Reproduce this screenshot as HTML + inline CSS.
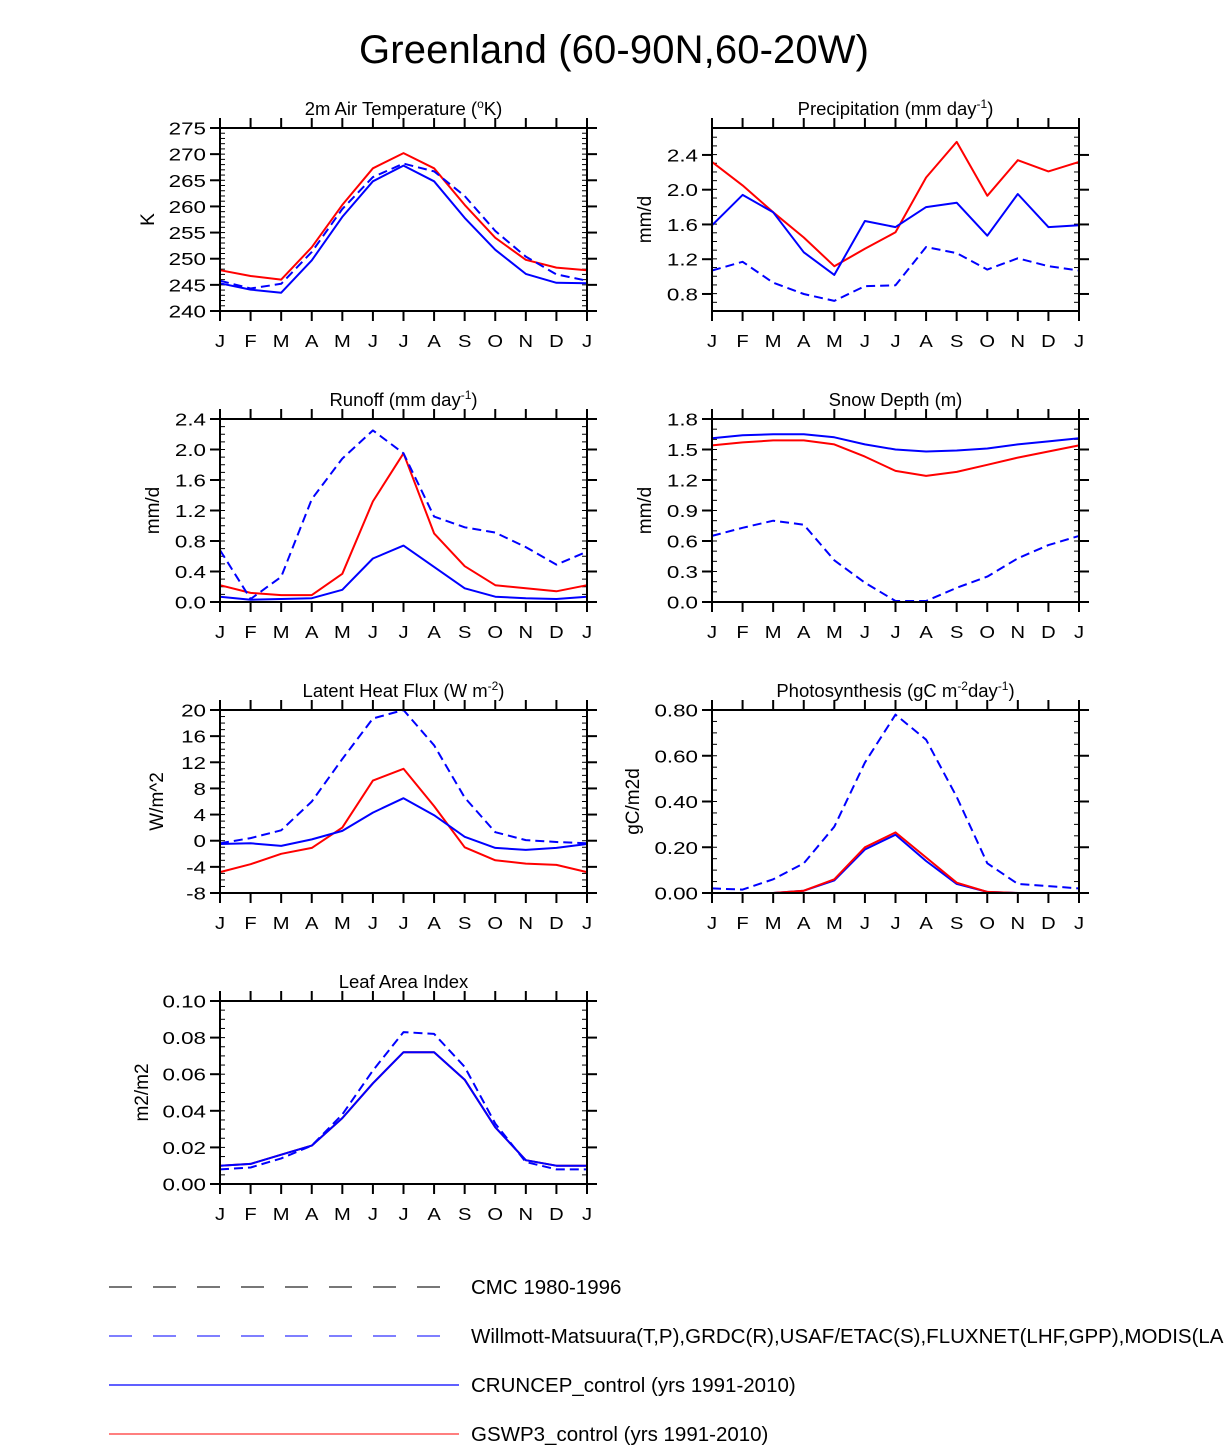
<!DOCTYPE html>
<html><head><meta charset="utf-8"><style>
html,body{margin:0;padding:0;background:#fff;}
svg text{font-family:"Liberation Sans",Helvetica,sans-serif;fill:#000;}
</style></head><body>
<svg id="chart" width="1224" height="1447" viewBox="0 0 1224 1447" xmlns="http://www.w3.org/2000/svg">
<text x="614" y="63" font-size="40" text-anchor="middle" textLength="510">Greenland (60-90N,60-20W)</text>
<g id="legend">
<line x1="109" y1="1287" x2="440" y2="1287" stroke="#777" stroke-width="2" stroke-dasharray="23,21"/>
<text x="471" y="1294" font-size="20.5">CMC 1980-1996</text>
<line x1="109" y1="1336" x2="440" y2="1336" stroke="#33f" stroke-width="1.2" stroke-dasharray="23,21"/>
<text x="471" y="1343" font-size="20.5">Willmott-Matsuura(T,P),GRDC(R),USAF/ETAC(S),FLUXNET(LHF,GPP),MODIS(LAI)</text>
<line x1="109" y1="1385" x2="459" y2="1385" stroke="#00f" stroke-width="1.2"/>
<text x="471" y="1392" font-size="20.5">CRUNCEP_control (yrs 1991-2010)</text>
<line x1="109" y1="1434" x2="459" y2="1434" stroke="#f33" stroke-width="1.2"/>
<text x="471" y="1441" font-size="20.5">GSWP3_control (yrs 1991-2010)</text>
</g>
</svg>
<script>
const months = ["J","F","M","A","M","J","J","A","S","O","N","D","J"];
// Temperature
const tempRed = [247.8,246.7,246,252.2,260.3,267.3,270.2,267.3,260.3,254,249.8,248.3,247.8];
const tempBlue = [245.3,244.1,243.5,249.7,258,264.8,267.8,264.8,257.8,251.7,247.1,245.4,245.3];
const tempObs = [245.8,244.3,245.2,251.3,259.5,265.6,268.2,266.7,262,255.3,250.4,247,245.8];
const tempTicks = ["240","245","250","255","260","265","270","275"];
// Precipitation
const precRed = [2.32,2.05,1.74,1.45,1.12,1.32,1.51,2.14,2.55,1.93,2.34,2.21,2.32];
const precBlue = [1.59,1.94,1.74,1.28,1.02,1.64,1.57,1.80,1.85,1.47,1.95,1.57,1.59];
const precObs = [1.07,1.17,0.93,0.80,0.72,0.89,0.90,1.34,1.27,1.08,1.21,1.12,1.07];
const precTicks = ["0.8","1.2","1.6","2.0","2.4"];
// Runoff
const runRed = [0.22,0.12,0.09,0.09,0.37,1.32,1.95,0.9,0.47,0.22,0.18,0.14,0.22];
const runBlue = [0.07,0.03,0.04,0.05,0.16,0.57,0.74,0.46,0.18,0.07,0.05,0.04,0.07];
const runObs = [0.68,0.04,0.33,1.35,1.88,2.25,1.95,1.12,0.98,0.91,0.72,0.49,0.66];
const runTicks = ["0.0","0.4","0.8","1.2","1.6","2.0","2.4"];
// Snow depth
const snowRed = [1.54,1.57,1.59,1.59,1.55,1.43,1.29,1.24,1.28,1.35,1.42,1.48,1.54];
const snowBlue = [1.61,1.64,1.65,1.65,1.62,1.55,1.50,1.48,1.49,1.51,1.55,1.58,1.61];
const snowObs = [0.65,0.73,0.80,0.76,0.41,0.19,0.01,0.01,0.14,0.25,0.43,0.56,0.65];
const snowCmc = [0,0,0,0,0,0,0,0,0,0,0,0,0];
const snowTicks = ["0.0","0.3","0.6","0.9","1.2","1.5","1.8"];
// Latent heat
const lhfRed = [-4.8,-3.6,-2,-1.1,2,9.2,11,5.3,-1,-3,-3.5,-3.7,-4.8];
const lhfBlue = [-0.5,-0.4,-0.8,0.2,1.5,4.3,6.5,3.9,0.6,-1.1,-1.4,-1.1,-0.5];
const lhfObs = [-0.4,0.4,1.6,6,12.5,18.7,20,14.6,6.6,1.3,0.1,-0.2,-0.4];
const lhfTicks = ["-8","-4","0","4","8","12","16","20"];
// Photosynthesis
const gppRed = [0,0,0,0.01,0.06,0.2,0.265,0.155,0.045,0.005,0,0,0];
const gppBlue = [0,0,0,0.01,0.055,0.19,0.255,0.14,0.04,0.005,0,0,0];
const gppObs = [0.02,0.015,0.06,0.13,0.29,0.57,0.78,0.67,0.42,0.13,0.04,0.03,0.02];
const gppTicks = ["0.00","0.20","0.40","0.60","0.80"];
// LAI
const laiRed = [0.010,0.011,0.016,0.021,0.036,0.055,0.072,0.072,0.057,0.031,0.013,0.010,0.010];
const laiBlue = [0.010,0.011,0.016,0.021,0.036,0.055,0.072,0.072,0.057,0.031,0.013,0.010,0.010];
const laiObs = [0.008,0.009,0.014,0.021,0.038,0.062,0.083,0.082,0.064,0.033,0.012,0.008,0.008];
const laiTicks = ["0.00","0.02","0.04","0.06","0.08","0.10"];

const NS = "http://www.w3.org/2000/svg";
const svg = document.getElementById("chart");
function mk(tag, attrs, parent){const e=document.createElementNS(NS,tag);for(const k in attrs)e.setAttribute(k,attrs[k]);(parent||svg).appendChild(e);return e;}

function panel(o){
  const g = mk("g",{});
  
  
  const L=o.x, R=o.x+367, T=o.y, B=o.y+183;
  const xs = i => L + (R-L)*i/12;
  const ys = v => B - (B-T)*(v-o.min)/(o.max-o.min);
  const t = mk("text",{x:(L+R)/2,y:T-13,"font-size":18.5,"text-anchor":"middle"},g);
  
  
  t.innerHTML = o.title;
  const yt = mk("text",{x:0,y:0,"font-size":19,"text-anchor":"middle",transform:`translate(${o.ytx},${(T+B)/2}) rotate(-90)`},g);
  
  
  yt.textContent = o.ytitle;
  for(let v=o.min; v<=o.max+1e-9; v+=o.minor){
    const y=ys(v);
    mk("line",{x1:L,y1:y,x2:L+5,y2:y,stroke:"#000","stroke-width":1},g);
    mk("line",{x1:R,y1:y,x2:R-5,y2:y,stroke:"#000","stroke-width":1},g);
  }
  o.ticks.forEach(lab=>{
    const y=ys(parseFloat(lab));
    mk("line",{x1:L-10,y1:y,x2:L,y2:y,stroke:"#000","stroke-width":2},g);
    mk("line",{x1:R,y1:y,x2:R+10,y2:y,stroke:"#000","stroke-width":2},g);
    const tl=mk("text",{x:0,y:0,"font-size":17.5,"text-anchor":"end",transform:`translate(${L-14},${y+6.5}) scale(1.28,1)`},g);
    
    
    tl.textContent=lab;
  });
  months.forEach((m,i)=>{
    const x=xs(i);
    mk("line",{x1:x,y1:T-10,x2:x,y2:T,stroke:"#000","stroke-width":2},g);
    mk("line",{x1:x,y1:B,x2:x,y2:B+10,stroke:"#000","stroke-width":2},g);
    const xl=mk("text",{x:0,y:0,"font-size":18,"text-anchor":"middle",transform:`translate(${x},${B+36}) scale(1.12,1)`},g);
    
    
    xl.textContent=m;
  });
  o.series.forEach(s=>{
    const pts=s.data.map((v,i)=>xs(i).toFixed(1)+","+ys(v).toFixed(1)).join(" ");
    const a={points:pts,fill:"none",stroke:s.color,"stroke-width":2,"stroke-linejoin":"round"};
    if(s.dash)a["stroke-dasharray"]="9,5";
    const p=mk("polyline",a,g);
    
    
  });
  const f=mk("rect",{x:L,y:T,width:R-L,height:B-T,fill:"none",stroke:"#000","stroke-width":2},g);
  
  
}
const lx=220, rx=712;
panel({name:"temperature-panel",x:lx,y:128,min:240,max:275,minor:1,ticks:tempTicks,title:'2m Air Temperature (<tspan font-size="12" dy="-7">o</tspan><tspan dy="7">K)</tspan>',ytitle:"K",ytx:154,
  series:[{key:"gswp3",data:tempRed,color:"#f00"},{key:"cruncep",data:tempBlue,color:"#00f"},{key:"obs",data:tempObs,color:"#00f",dash:1}]});
panel({name:"precipitation-panel",x:rx,y:128,min:0.604,max:2.71,minor:0.1,ticks:precTicks,title:'Precipitation (mm day<tspan font-size="12" dy="-7">-1</tspan><tspan dy="7">)</tspan>',ytitle:"mm/d",ytx:651,
  series:[{key:"gswp3",data:precRed,color:"#f00"},{key:"cruncep",data:precBlue,color:"#00f"},{key:"obs",data:precObs,color:"#00f",dash:1}]});
panel({name:"runoff-panel",x:lx,y:419,min:0,max:2.4,minor:0.1,ticks:runTicks,title:'Runoff (mm day<tspan font-size="12" dy="-7">-1</tspan><tspan dy="7">)</tspan>',ytitle:"mm/d",ytx:159,
  series:[{key:"gswp3",data:runRed,color:"#f00"},{key:"cruncep",data:runBlue,color:"#00f"},{key:"obs",data:runObs,color:"#00f",dash:1}]});
panel({name:"snow-depth-panel",x:rx,y:419,min:0,max:1.8,minor:0.1,ticks:snowTicks,title:'Snow Depth (m)',ytitle:"mm/d",ytx:651,
  series:[{key:"cmc",data:snowCmc,color:"#555",dash:1},{key:"gswp3",data:snowRed,color:"#f00"},{key:"cruncep",data:snowBlue,color:"#00f"},{key:"obs",data:snowObs,color:"#00f",dash:1}]});
panel({name:"latent-heat-panel",x:lx,y:710,min:-8,max:20,minor:1,ticks:lhfTicks,title:'Latent Heat Flux (W m<tspan font-size="12" dy="-7">-2</tspan><tspan dy="7">)</tspan>',ytitle:"W/m^2",ytx:163,
  series:[{key:"gswp3",data:lhfRed,color:"#f00"},{key:"cruncep",data:lhfBlue,color:"#00f"},{key:"obs",data:lhfObs,color:"#00f",dash:1}]});
panel({name:"photosynthesis-panel",x:rx,y:710,min:0,max:0.8,minor:0.05,ticks:gppTicks,title:'Photosynthesis (gC m<tspan font-size="12" dy="-7">-2</tspan><tspan dy="7">day</tspan><tspan font-size="12" dy="-7">-1</tspan><tspan dy="7">)</tspan>',ytitle:"gC/m2d",ytx:639,
  series:[{key:"obs",data:gppObs,color:"#00f",dash:1},{key:"cruncep",data:gppBlue,color:"#00f"},{key:"gswp3",data:gppRed,color:"#f00"}]});
panel({name:"leaf-area-index-panel",x:lx,y:1001,min:0,max:0.1,minor:0.005,ticks:laiTicks,title:'Leaf Area Index',ytitle:"m2/m2",ytx:148,
  series:[{key:"gswp3",data:laiRed,color:"#f00"},{key:"cruncep",data:laiBlue,color:"#00f"},{key:"obs",data:laiObs,color:"#00f",dash:1}]});
</script>
</body></html>
